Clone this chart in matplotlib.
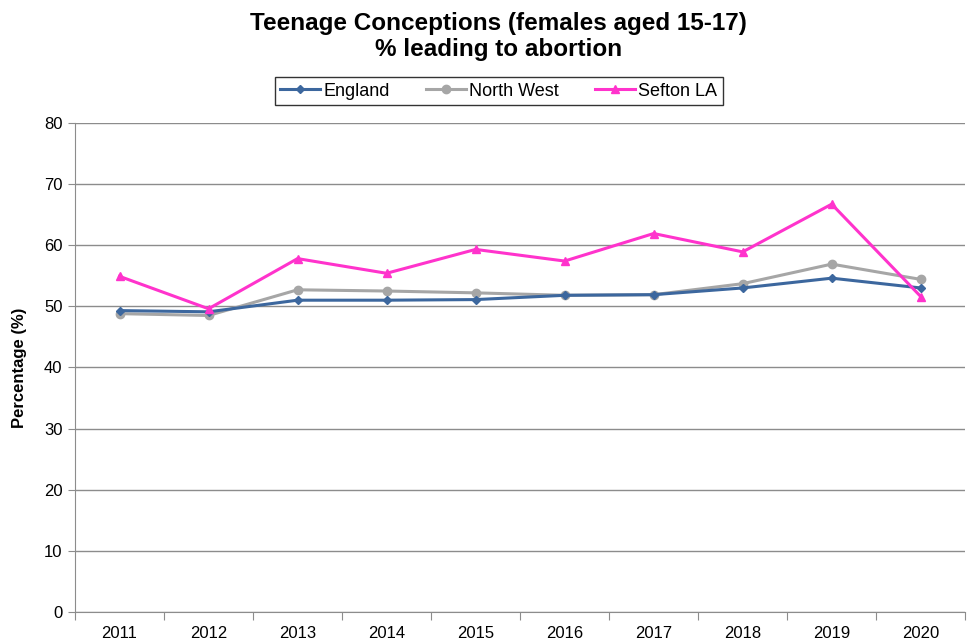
import matplotlib
matplotlib.use("Agg")
import matplotlib.pyplot as plt
import numpy as np

plt.rcParams['font.family'] = ['Liberation Sans', 'DejaVu Sans']

years = ["2011", "2012", "2013", "2014", "2015", "2016", "2017", "2018", "2019", "2020"]
england = [49.3, 49.1, 51.0, 51.0, 51.1, 51.8, 51.9, 53.0, 54.6, 53.0]
north_west = [48.8, 48.5, 52.7, 52.5, 52.2, 51.8, 51.9, 53.7, 56.9, 54.4]
sefton = [54.9, 49.6, 57.8, 55.4, 59.3, 57.4, 61.9, 58.9, 66.7, 51.6]

fig = plt.figure(figsize=(9.74, 6.43), dpi=100)
ax = fig.add_axes([0.077, 0.048, 0.914, 0.761])

x = np.arange(len(years))
ax.plot(x, england, color='#3C679E', lw=2.2, marker='D', ms=4, label='England', zorder=3)
ax.plot(x, north_west, color='#A6A6A6', lw=2.2, marker='o', ms=6, label='North West', zorder=2)
ax.plot(x, sefton, color='#FF33CC', lw=2.2, marker='^', ms=6, label='Sefton LA', zorder=4)

ax.set_xlim(-0.5, len(years) - 0.5)
ax.set_ylim(0, 80)
ax.set_yticks(np.arange(0, 81, 10))
ax.yaxis.grid(True, color='#8C8C8C', lw=1)
ax.set_axisbelow(True)

ax.set_xticks(np.arange(-0.5, len(years), 1))
ax.set_xticklabels([])
ax.set_xticks(x, minor=True)
ax.set_xticklabels(years, minor=True)
ax.tick_params(axis='x', which='minor', length=0, pad=10, labelsize=12)
ax.tick_params(axis='x', which='major', length=6, color='#8C8C8C', direction='out')
ax.tick_params(axis='y', length=5, color='#8C8C8C', labelsize=12, pad=4)

for s in ['top', 'right']:
    ax.spines[s].set_visible(False)
for s in ['left', 'bottom']:
    ax.spines[s].set_color('#8C8C8C')

ax.set_ylabel('Percentage (%)', fontsize=12, fontweight='bold', labelpad=12)

fig.text(0.512, 0.943, 'Teenage Conceptions (females aged 15-17)\n% leading to abortion',
         ha='center', va='center', fontsize=17.5, fontweight='bold', linespacing=1.2)

leg = fig.legend(loc='center', bbox_to_anchor=(0.512, 0.858), ncol=3, fontsize=13,
                 frameon=True, fancybox=False, edgecolor='black', handlelength=2.2,
                 handletextpad=0.2, columnspacing=2.0, borderpad=0.3)
leg.get_frame().set_linewidth(1)

fig.savefig('out.png', dpi=100)
